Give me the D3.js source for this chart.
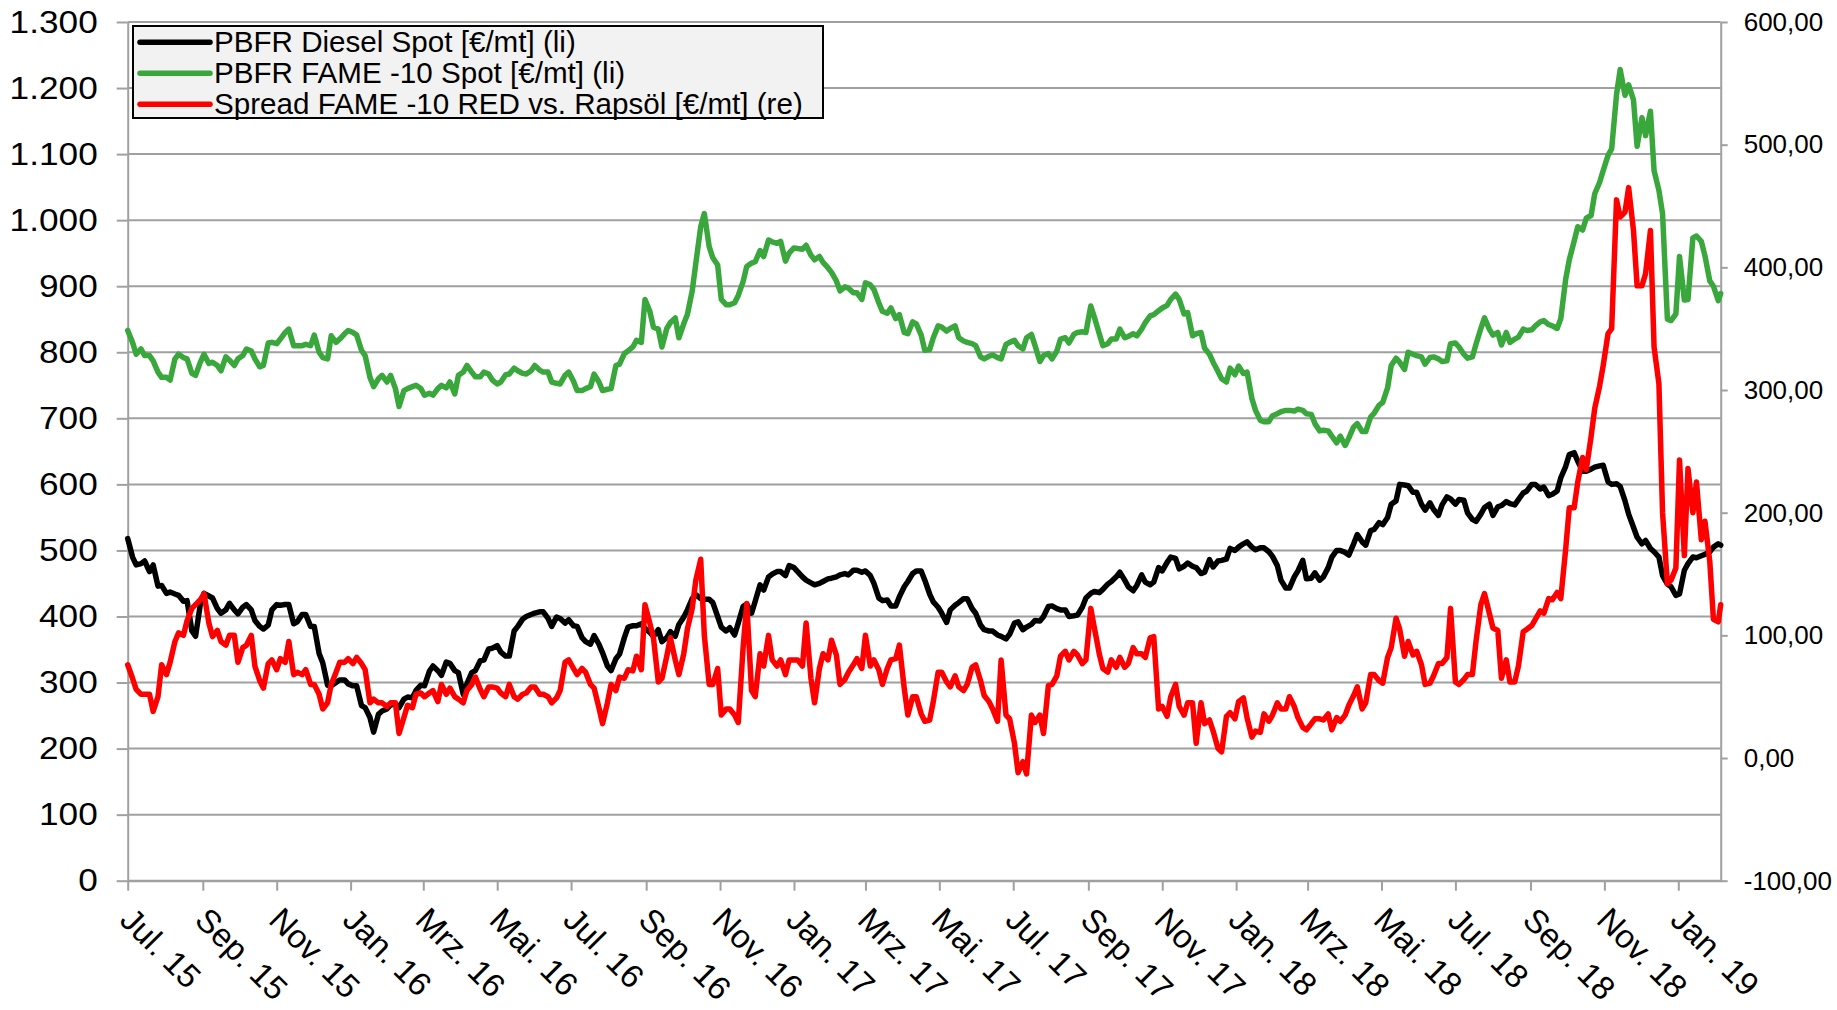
<!DOCTYPE html>
<html><head><meta charset="utf-8">
<script src="https://cdn.jsdelivr.net/npm/d3@7"></script>
<style>
html,body{margin:0;padding:0;background:#fff;}
svg{display:block;}
text{font-family:"Liberation Sans", Arial, sans-serif; fill:#000;}
</style></head><body>
<svg id="chart" width="1837" height="1010"></svg>
<script>
const dates = [
"2015-07-01","2015-07-05","2015-07-08","2015-07-12","2015-07-15","2015-07-19","2015-07-22","2015-07-26","2015-07-29",
"2015-08-02","2015-08-05","2015-08-09","2015-08-12","2015-08-16","2015-08-19","2015-08-23","2015-08-26","2015-08-30",
"2015-09-02","2015-09-06","2015-09-09","2015-09-13","2015-09-16","2015-09-20","2015-09-23","2015-09-27","2015-09-30",
"2015-10-04","2015-10-07","2015-10-11","2015-10-14","2015-10-18","2015-10-21","2015-10-25","2015-10-28",
"2015-11-01","2015-11-04","2015-11-08","2015-11-11","2015-11-15","2015-11-18","2015-11-22","2015-11-25","2015-11-29",
"2015-12-02","2015-12-06","2015-12-09","2015-12-13","2015-12-16","2015-12-20","2015-12-23","2015-12-27","2015-12-30",
"2016-01-03","2016-01-06","2016-01-10","2016-01-13","2016-01-17","2016-01-20","2016-01-24","2016-01-27","2016-01-31",
"2016-02-03","2016-02-07","2016-02-10","2016-02-14","2016-02-17","2016-02-21","2016-02-24","2016-02-28",
"2016-03-02","2016-03-06","2016-03-09","2016-03-13","2016-03-16","2016-03-20","2016-03-23","2016-03-27","2016-03-30",
"2016-04-03","2016-04-06","2016-04-10","2016-04-13","2016-04-17","2016-04-20","2016-04-24","2016-04-27",
"2016-05-01","2016-05-04","2016-05-08","2016-05-11","2016-05-15","2016-05-18","2016-05-22","2016-05-25","2016-05-29",
"2016-06-01","2016-06-05","2016-06-08","2016-06-12","2016-06-15","2016-06-19","2016-06-22","2016-06-26","2016-06-29",
"2016-07-03","2016-07-06","2016-07-10","2016-07-13","2016-07-17","2016-07-20","2016-07-24","2016-07-27","2016-07-31",
"2016-08-03","2016-08-07","2016-08-10","2016-08-14","2016-08-17","2016-08-21","2016-08-24","2016-08-28","2016-08-31",
"2016-09-04","2016-09-07","2016-09-11","2016-09-14","2016-09-18","2016-09-21","2016-09-25","2016-09-28",
"2016-10-02","2016-10-05","2016-10-09","2016-10-12","2016-10-16","2016-10-19","2016-10-23","2016-10-26","2016-10-30",
"2016-11-02","2016-11-06","2016-11-09","2016-11-13","2016-11-16","2016-11-20","2016-11-23","2016-11-27","2016-11-30",
"2016-12-04","2016-12-07","2016-12-11","2016-12-14","2016-12-18","2016-12-21","2016-12-25","2016-12-28",
"2017-01-01","2017-01-04","2017-01-08","2017-01-11","2017-01-15","2017-01-18","2017-01-22","2017-01-25","2017-01-29",
"2017-02-01","2017-02-05","2017-02-08","2017-02-12","2017-02-15","2017-02-19","2017-02-22","2017-02-26",
"2017-03-01","2017-03-05","2017-03-08","2017-03-12","2017-03-15","2017-03-19","2017-03-22","2017-03-26","2017-03-29",
"2017-04-02","2017-04-05","2017-04-09","2017-04-12","2017-04-16","2017-04-19","2017-04-23","2017-04-26","2017-04-30",
"2017-05-03","2017-05-07","2017-05-10","2017-05-14","2017-05-17","2017-05-21","2017-05-24","2017-05-28","2017-05-31",
"2017-06-04","2017-06-07","2017-06-11","2017-06-14","2017-06-18","2017-06-21","2017-06-25","2017-06-28",
"2017-07-02","2017-07-05","2017-07-09","2017-07-12","2017-07-16","2017-07-19","2017-07-23","2017-07-26","2017-07-30",
"2017-08-02","2017-08-06","2017-08-09","2017-08-13","2017-08-16","2017-08-20","2017-08-23","2017-08-27","2017-08-30",
"2017-09-03","2017-09-06","2017-09-10","2017-09-13","2017-09-17","2017-09-20","2017-09-24","2017-09-27",
"2017-10-01","2017-10-04","2017-10-08","2017-10-11","2017-10-15","2017-10-18","2017-10-22","2017-10-25","2017-10-29",
"2017-11-01","2017-11-05","2017-11-08","2017-11-12","2017-11-15","2017-11-19","2017-11-22","2017-11-26","2017-11-29",
"2017-12-03","2017-12-06","2017-12-10","2017-12-13","2017-12-17","2017-12-20","2017-12-24","2017-12-27","2017-12-31",
"2018-01-03","2018-01-07","2018-01-10","2018-01-14","2018-01-17","2018-01-21","2018-01-24","2018-01-28","2018-01-31",
"2018-02-04","2018-02-07","2018-02-11","2018-02-14","2018-02-18","2018-02-21","2018-02-25","2018-02-28",
"2018-03-04","2018-03-07","2018-03-11","2018-03-14","2018-03-18","2018-03-21","2018-03-25","2018-03-28",
"2018-04-01","2018-04-04","2018-04-08","2018-04-11","2018-04-15","2018-04-18","2018-04-22","2018-04-25","2018-04-29",
"2018-05-02","2018-05-06","2018-05-09","2018-05-13","2018-05-16","2018-05-20","2018-05-23","2018-05-27","2018-05-30",
"2018-06-03","2018-06-06","2018-06-10","2018-06-13","2018-06-17","2018-06-20","2018-06-24","2018-06-27",
"2018-07-01","2018-07-04","2018-07-08","2018-07-11","2018-07-15","2018-07-18","2018-07-22","2018-07-25","2018-07-29",
"2018-08-01","2018-08-05","2018-08-08","2018-08-12","2018-08-15","2018-08-19","2018-08-22","2018-08-26","2018-08-29",
"2018-09-02","2018-09-05","2018-09-09","2018-09-12","2018-09-16","2018-09-19","2018-09-23","2018-09-26","2018-09-30",
"2018-10-03","2018-10-07","2018-10-10","2018-10-14","2018-10-17","2018-10-21","2018-10-24","2018-10-28","2018-10-31",
"2018-11-04","2018-11-07","2018-11-11","2018-11-14","2018-11-18","2018-11-21","2018-11-25","2018-11-28",
"2018-12-02","2018-12-05","2018-12-09","2018-12-12","2018-12-16","2018-12-19","2018-12-23","2018-12-26","2018-12-30",
"2019-01-02","2019-01-06","2019-01-09","2019-01-13","2019-01-16","2019-01-20","2019-01-23","2019-01-27","2019-01-30",
"2019-02-03","2019-02-05"
];

// PBFR FAME -10 Spot [€/mt] (li)
const fameSpot = [
833,815,797,805,795,795,787,770,762,762, 758,790,797,792,790,768,765,785,797,783,
785,780,772,793,788,780,790,795,805,802, 790,778,780,814,815,813,820,830,835,810,
810,810,812,810,826,800,792,790,825,815, 820,828,833,830,826,803,795,762,748,760,
765,755,765,745,718,742,745,748,750,745, 735,738,735,745,750,746,755,737,765,770,
780,770,763,763,770,767,758,752,755,766, 767,776,772,768,767,772,780,773,770,770,
755,753,752,765,770,756,742,742,745,748, 767,755,742,744,745,780,782,798,802,808,
818,815,880,862,838,835,808,836,845,852, 822,843,857,893,935,990,1010,960,943,932,
880,872,872,875,886,907,930,935,937,954, 945,970,967,965,968,938,950,958,957,956,
962,947,940,945,936,928,921,908,893,899, 897,890,890,880,905,902,895,875,862,859,
867,851,857,830,828,846,843,826,803,804, 822,840,838,832,836,840,822,817,815,813,
810,793,790,794,796,792,790,812,815,818, 810,805,822,827,810,786,795,798,790,802,
820,822,814,827,830,831,830,870,853,828, 810,813,820,820,835,822,824,828,825,835,
845,855,857,863,867,871,880,888,880,858, 860,825,828,830,806,797,785,771,760,755,
776,766,779,768,770,730,712,697,695,695, 704,707,710,712,712,711,714,712,707,706,
692,681,682,681,673,663,673,659,670,687, 692,680,680,702,708,720,724,746,780,791,
785,774,800,797,795,793,782,792,793,790, 786,787,813,814,808,797,791,793,812,836,
852,835,826,830,811,830,815,820,823,835, 833,834,840,846,848,842,840,836,851,910,
940,968,990,985,1003,1007,1040,1057,1075,1098, 1108,1190,1228,1189,1205,1182,1112,1155,1128,1165,
1075,1045,1010,850,848,858,945,879,880,973, 976,968,946,908,900,878,889
];

// PBFR Diesel Spot [€/mt] (li)
const dieselSpot = [
518,490,478,480,484,468,478,446,447,435, 437,434,432,423,424,378,370,419,435,431,
428,412,405,410,420,410,404,414,418,410, 394,385,381,387,410,418,417,418,418,389,
392,403,403,385,385,344,330,296,295,300, 304,304,298,295,295,265,262,247,225,252,
257,260,266,268,262,275,278,277,288,296, 295,317,325,318,311,331,329,318,315,282,
298,315,318,333,334,351,352,356,346,340, 340,378,385,396,400,403,405,407,407,397,
385,399,397,390,395,386,385,368,362,358, 371,358,345,325,318,336,343,368,384,386,
386,389,382,376,370,380,362,368,377,370, 388,399,410,427,433,427,426,426,421,400,
384,378,383,372,390,415,419,405,423,448, 440,460,464,468,468,462,477,474,468,460,
455,451,448,450,453,457,458,460,463,465, 463,470,470,467,469,462,450,428,424,425,
416,416,430,445,453,465,469,469,455,434, 422,414,405,391,410,417,421,427,427,412,
405,387,380,378,378,372,370,366,373,390, 392,380,384,388,394,393,400,415,416,412,
410,410,400,401,402,414,428,435,438,436, 441,449,453,460,467,455,445,439,447,463,
452,448,452,474,469,482,490,488,472,476, 481,476,474,465,467,486,475,484,485,487,
503,500,505,510,513,505,501,504,504,498, 491,477,455,443,443,460,469,485,457,458,
466,455,460,474,490,500,500,497,493,510, 524,513,508,530,532,542,539,550,570,575,
600,599,598,588,588,570,561,572,562,553, 569,581,578,570,577,576,557,547,544,555,
565,570,553,566,568,574,571,569,577,587, 590,600,600,593,596,583,585,590,610,627,
645,648,635,620,620,623,626,628,629,604, 600,601,597,575,555,535,520,510,515,503,
498,490,462,449,445,432,434,470,480,490, 489,492,494,498,505,510,508
];

// Spread FAME -10 RED vs. Rapsöl [€/mt] (re)
const spreadFame = [
76,65,56,52,52,52,38,50,76,68, 78,95,102,100,112,122,125,129,134,110,
99,104,95,92,100,100,78,90,92,100, 75,63,57,77,80,72,81,78,95,68,
70,68,72,60,60,52,40,45,60,70, 78,78,81,77,82,77,72,45,48,45,
45,42,45,45,20,33,43,41,52,53, 50,53,55,46,60,52,57,50,48,45,
55,60,66,56,50,58,58,57,53,50, 60,50,48,52,53,58,58,52,52,50,
45,49,55,78,80,73,68,73,70,60, 57,41,28,45,60,55,66,65,72,71,
83,72,125,110,98,62,65,83,98,80, 68,85,105,122,145,162,100,60,60,73,
35,40,40,35,29,90,126,55,50,85, 75,100,80,75,80,68,80,80,80,75,
110,65,45,73,85,80,96,84,60,64, 70,76,81,73,100,75,80,72,60,73,
80,81,92,57,35,50,50,36,30,31, 46,70,70,62,58,67,58,55,60,74,
76,63,51,46,40,30,80,35,32,12, -12,-3,-13,35,29,35,20,59,60,67,
83,87,80,87,84,77,80,122,106,85, 73,70,80,74,82,74,77,90,85,85,
82,98,99,40,42,34,50,60,42,35, 45,45,12,45,28,31,22,8,5,34,
37,32,46,49,33,17,22,21,36,30, 35,45,40,40,50,42,33,25,23,28,
32,32,31,36,23,33,30,35,43,51, 58,40,45,68,68,63,61,82,90,114,
105,83,95,84,87,76,60,61,67,77, 77,82,122,62,60,64,68,68,95,125,
134,118,106,104,65,80,62,62,75,103, 105,108,113,120,118,130,129,135,130,170,
204,204,225,245,235,262,285,303,320,346, 350,455,441,445,465,430,385,385,395,430,
335,305,200,142,145,155,243,165,236,200, 225,178,193,160,113,111,125
];

const leftTickValues = [0,100,200,300,400,500,600,700,800,900,1000,1100,1200,1300];
const leftTickLabels = ["0","100","200","300","400","500","600","700","800","900","1.000","1.100","1.200","1.300"];
const rightTickValues = [-100,0,100,200,300,400,500,600];
const rightTickLabels = ["-100,00","0,00","100,00","200,00","300,00","400,00","500,00","600,00"];
const monthTickDates = ["2015-07-01","2015-09-01","2015-11-01","2016-01-01","2016-03-01","2016-05-01","2016-07-01","2016-09-01",
  "2016-11-01","2017-01-01","2017-03-01","2017-05-01","2017-07-01","2017-09-01","2017-11-01","2018-01-01","2018-03-01",
  "2018-05-01","2018-07-01","2018-09-01","2018-11-01","2019-01-01"];
const monthTickLabels = ["Jul. 15","Sep. 15","Nov. 15","Jan. 16","Mrz. 16","Mai. 16","Jul. 16","Sep. 16","Nov. 16","Jan. 17",
  "Mrz. 17","Mai. 17","Jul. 17","Sep. 17","Nov. 17","Jan. 18","Mrz. 18","Mai. 18","Jul. 18","Sep. 18","Nov. 18","Jan. 19"];
const legendLabels = ["PBFR Diesel Spot [€/mt] (li)","PBFR FAME -10 Spot [€/mt] (li)","Spread FAME -10 RED vs. Rapsöl [€/mt] (re)"];
const seriesColors = ["#000000","#3aa73d","#ff0000"];

// ---------- CHART ----------
const svg = d3.select("#chart");
const plot = {left:127.7, right:1720.7, top:22, bottom:880.7};
const parse = d3.utcParse("%Y-%m-%d");
const dateObjs = dates.map(parse);
const x = d3.scaleUtc().domain([dateObjs[0], dateObjs[dateObjs.length-1]]).range([plot.left, plot.right]);
const yL = d3.scaleLinear().domain([0,1300]).range([plot.bottom, plot.top]);
const yR = d3.scaleLinear().domain([-100,600]).range([plot.bottom, plot.top]);
const gridColor = "#a0a0a0";

svg.append("rect").attr("width",1837).attr("height",1010).attr("fill","#fff");

// gridlines
svg.append("g").selectAll("line").data(leftTickValues).join("line")
  .attr("x1",plot.left).attr("x2",plot.right)
  .attr("y1",d=>yL(d)).attr("y2",d=>yL(d))
  .attr("stroke",gridColor).attr("stroke-width",2);

function styleAxis(g, fs){
  g.attr("font-family",null).attr("font-size",null);
  g.select(".domain").attr("stroke",gridColor).attr("stroke-width",2);
  g.selectAll(".tick line").attr("stroke",gridColor).attr("stroke-width",2);
  g.selectAll(".tick text").attr("font-size",fs).attr("fill","#000")
    .style("font-family",'"Liberation Sans", Arial, sans-serif');
}

// left axis
const gL = svg.append("g").attr("transform",`translate(${plot.left},0)`)
  .call(d3.axisLeft(yL).tickValues(leftTickValues).tickFormat((d,i)=>leftTickLabels[i])
    .tickSize(11).tickSizeOuter(0).tickPadding(19));
styleAxis(gL, 32);
gL.selectAll(".tick text").each(function(){
  const w = this.getComputedTextLength();
  d3.select(this).attr("textLength", w*1.1).attr("lengthAdjust","spacingAndGlyphs");
});

// right axis
const gR = svg.append("g").attr("transform",`translate(${plot.right},0)`)
  .call(d3.axisRight(yR).tickValues(rightTickValues).tickFormat((d,i)=>rightTickLabels[i])
    .tickSize(7).tickSizeOuter(0).tickPadding(16));
styleAxis(gR, 26);

// bottom axis
const gB = svg.append("g").attr("transform",`translate(0,${plot.bottom})`)
  .call(d3.axisBottom(x).tickValues(monthTickDates.map(parse)).tickFormat((d,i)=>monthTickLabels[i])
    .tickSize(10).tickSizeOuter(0));
styleAxis(gB, 33);
gB.selectAll(".tick text").attr("y",null).attr("dy",null)
  .attr("text-anchor","start").attr("transform","translate(-10,41) rotate(45)");

// series
const lineL = d3.line().x((d,i)=>x(dateObjs[i])).y(d=>yL(d));
const lineR = d3.line().x((d,i)=>x(dateObjs[i])).y(d=>yR(d));
const series = [
  {vals:dieselSpot, gen:lineL, color:seriesColors[0]},
  {vals:fameSpot, gen:lineL, color:seriesColors[1]},
  {vals:spreadFame, gen:lineR, color:seriesColors[2]}
];
svg.append("g").selectAll("path").data(series).join("path")
  .attr("d",s=>s.gen(s.vals)).attr("fill","none").attr("stroke",s=>s.color)
  .attr("stroke-width",5.5).attr("stroke-linejoin","round").attr("stroke-linecap","round");

// legend
const lg = svg.append("g");
lg.append("rect").attr("x",133).attr("y",26).attr("width",690).attr("height",92)
  .attr("fill","#f2f2f2").attr("stroke","#000").attr("stroke-width",2);
const rows = lg.selectAll("g.row").data(legendLabels).join("g")
  .attr("transform",(d,i)=>`translate(0,${42.2 + i*31})`);
rows.append("line").attr("x1",140).attr("x2",210).attr("y1",0).attr("y2",0)
  .attr("stroke",(d,i)=>seriesColors[i]).attr("stroke-width",5.5).attr("stroke-linecap","round");
rows.append("text").attr("x",214).attr("y",10).attr("font-size",29.6).text(d=>d);
</script>
</body></html>
